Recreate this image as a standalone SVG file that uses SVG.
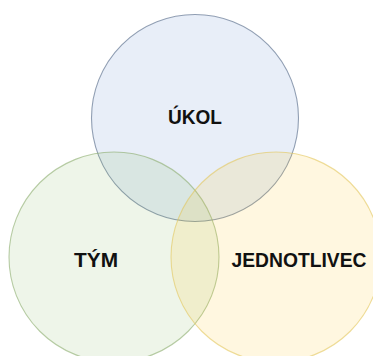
<svg xmlns="http://www.w3.org/2000/svg" width="373" height="356" viewBox="0 0 373 356">
<style>
.c{stroke-width:1.1}
.t{font-family:"Liberation Sans",Arial,sans-serif;font-weight:bold;font-size:21px;fill:#111;text-anchor:middle}
</style>
<rect width="373" height="356" fill="#fff"/>
<g id="ukol">
<circle class="c" cx="195" cy="118" r="103.5" fill="#4472c4" fill-opacity="0.12" stroke="#5a6e8c" stroke-opacity="0.65"/>
<text class="t" x="195" y="124" textLength="54" lengthAdjust="spacingAndGlyphs">ÚKOL</text>
</g>
<g id="tym">
<circle class="c" cx="114" cy="257" r="105" fill="#70ad47" fill-opacity="0.12" stroke="#8aab6c" stroke-opacity="0.6"/>
<text class="t" x="96" y="267" textLength="44" lengthAdjust="spacingAndGlyphs">TÝM</text>
</g>
<g id="jednotlivec">
<circle class="c" cx="276" cy="257" r="105" fill="#ffc000" fill-opacity="0.12" stroke="#e2c65a" stroke-opacity="0.6"/>
<text class="t" x="299" y="267" textLength="135" lengthAdjust="spacingAndGlyphs">JEDNOTLIVEC</text>
</g>
<g id="connectors"/>
</svg>
